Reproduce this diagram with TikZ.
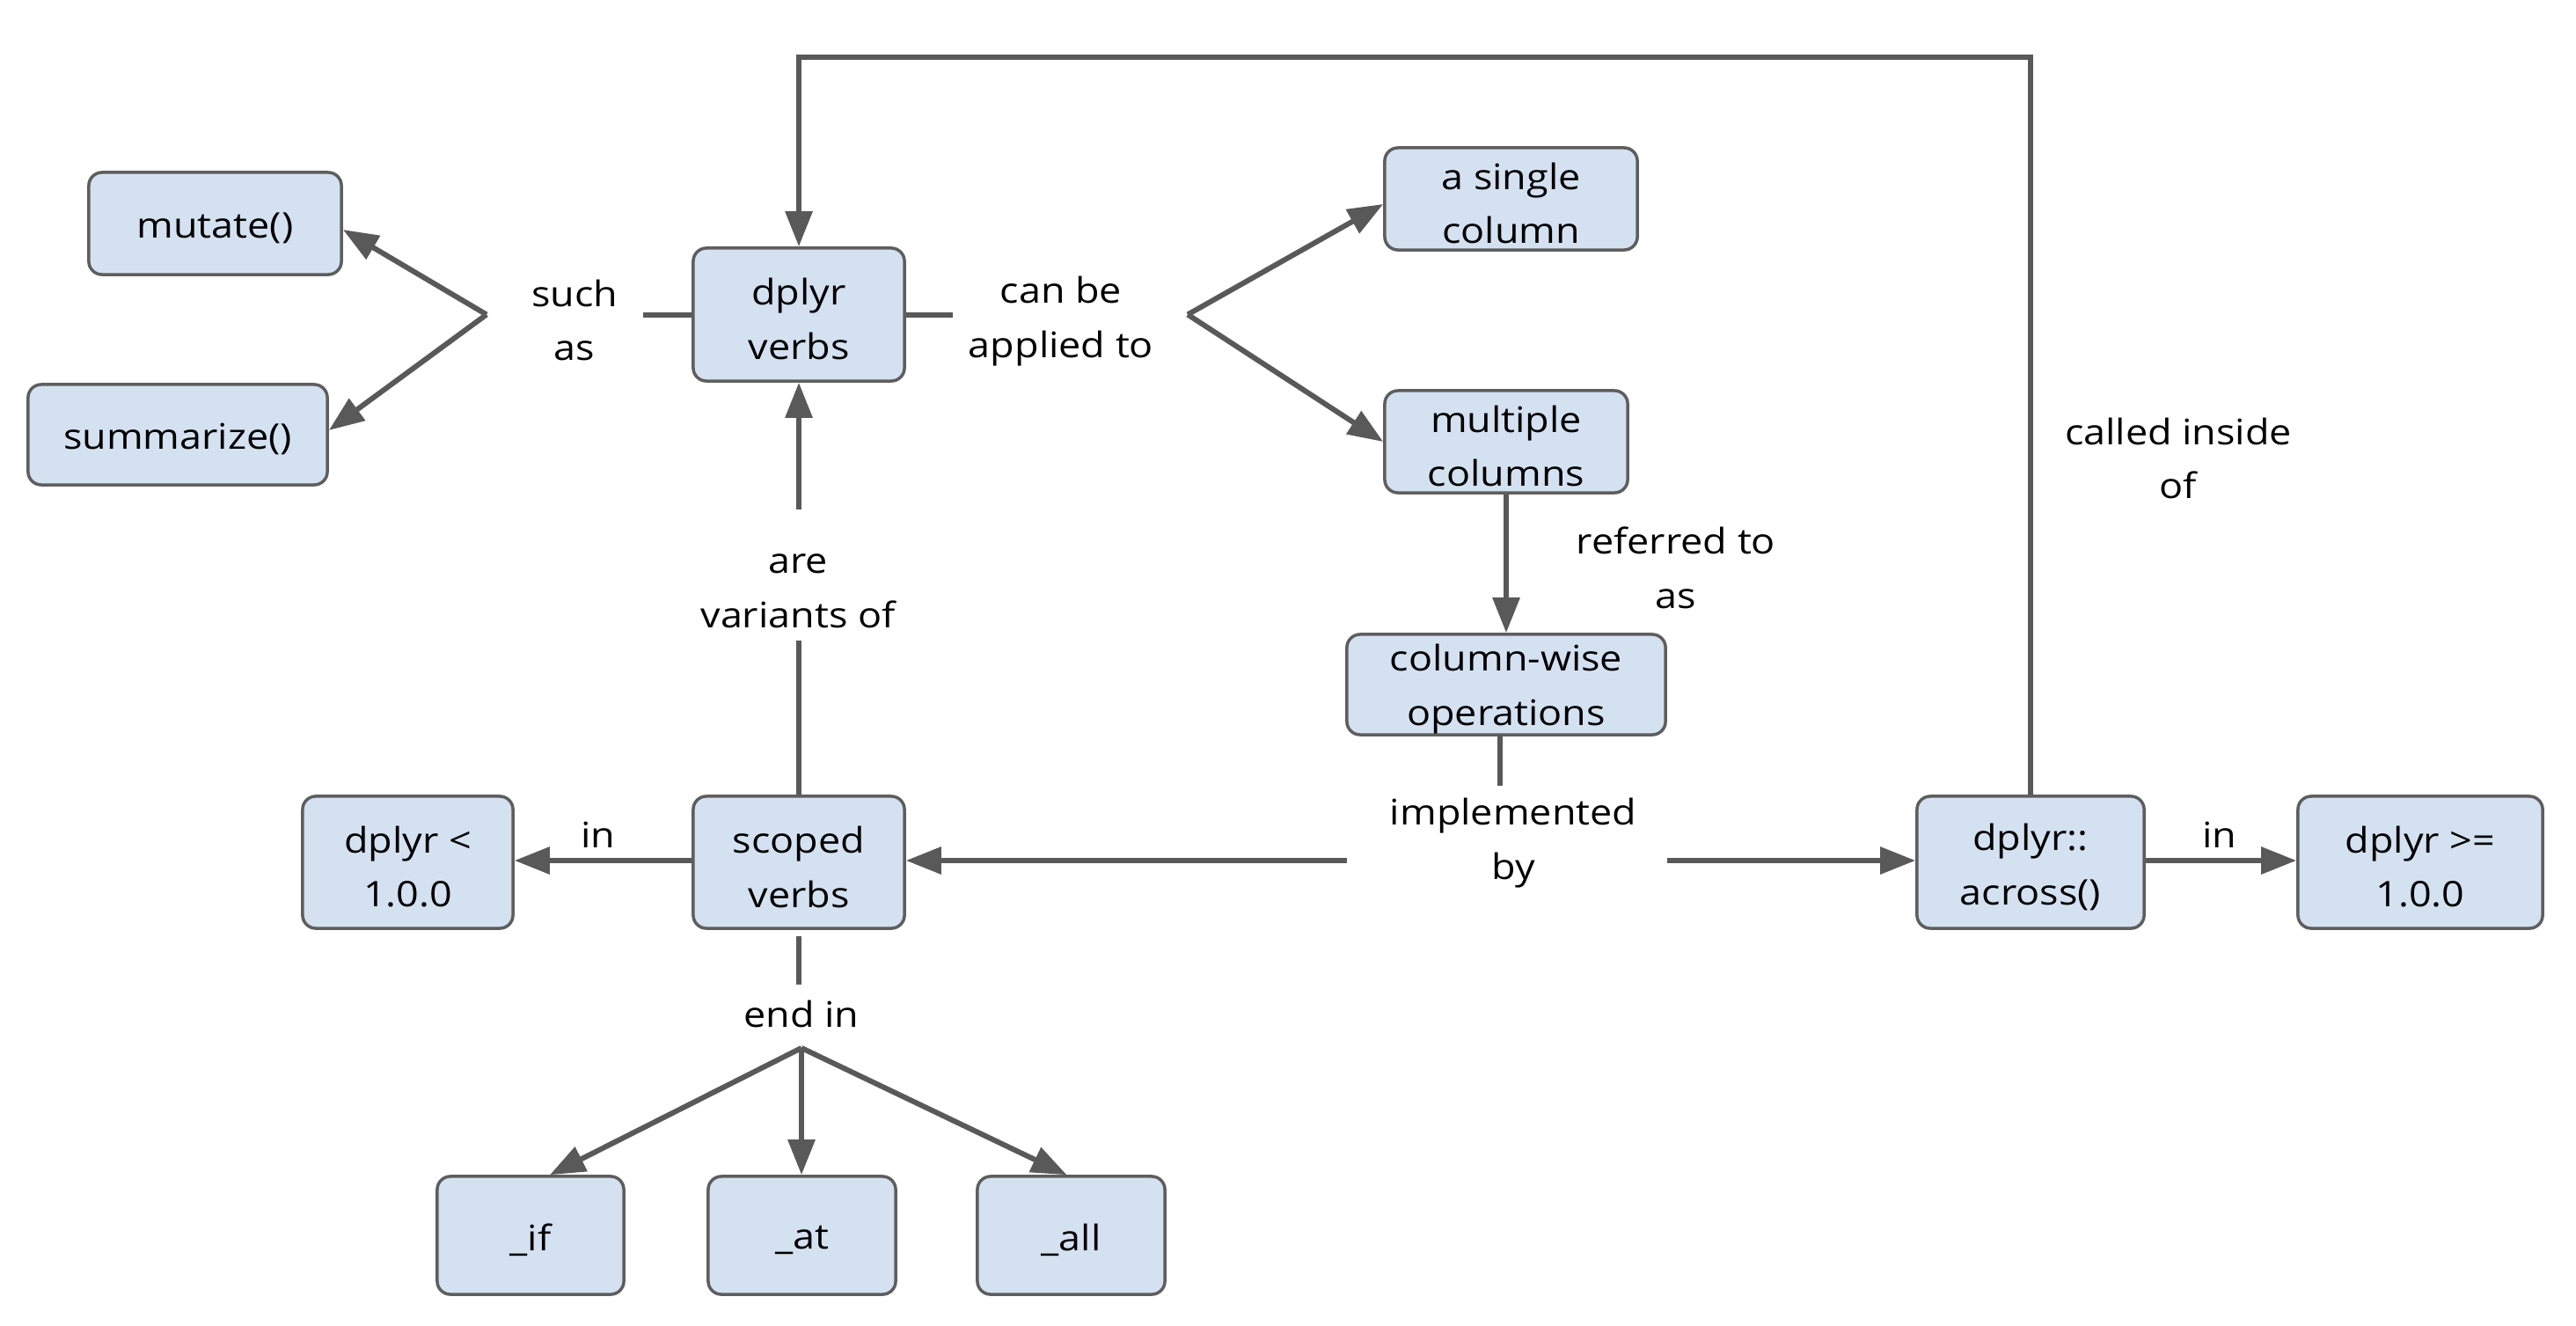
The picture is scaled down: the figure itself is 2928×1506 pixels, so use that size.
\documentclass[tikz,border=0pt]{standalone}
\usepackage{fontspec}
\setmainfont[FakeStretch=1.12]{Open Sans}
\usetikzlibrary{arrows.meta}
\definecolor{boxfill}{HTML}{D4E1F1}
\definecolor{boxline}{HTML}{5E5E5E}
\definecolor{conncol}{HTML}{595959}
\newcommand{\dfont}{\fontsize{11.4}{17.6}\selectfont}
\begin{document}
\begin{tikzpicture}[x=0.01cm,y=-0.01cm,
  box/.style={draw=boxline, fill=boxfill, line width=0.035cm, rounded corners=0.15cm, inner sep=0pt},
  bsize/.style 2 args={minimum width=#1, minimum height=#2},
  lbl/.style={align=center, inner sep=0pt, font=\dfont},
  btext/.style={lbl, yshift=-0.05cm},
  link/.style={draw=conncol, line width=0.06cm},
  arr/.style={link, -{Triangle[length=0.40cm,width=0.30cm]}}]
\useasboundingbox[fill=white] (0,0) rectangle (2928,1506);

% boxes
\node[box, bsize={2.87cm}{1.16cm}, label={[btext]center:{mutate()}}] (mutate) at (244.5,254) {};
\node[box, bsize={3.40cm}{1.14cm}, label={[btext]center:{summarize()}}] (summ) at (202,494) {};
\node[box, bsize={2.40cm}{1.51cm}, label={[btext]center:{dplyr\\verbs}}] (verbs) at (908,357.5) {};
\node[box, bsize={2.87cm}{1.16cm}, label={[btext]center:{a single\\column}}] (single) at (1717.5,226) {};
\node[box, bsize={2.76cm}{1.16cm}, label={[btext]center:{multiple\\columns}}] (multi) at (1712,502) {};
\node[box, bsize={3.62cm}{1.14cm}, label={[btext]center:{column-wise\\operations}}] (cwise) at (1712,778) {};
\node[box, bsize={2.58cm}{1.50cm}, label={[btext]center:{dplyr::\\across()}}] (across) at (2308,980) {};
\node[box, bsize={2.78cm}{1.50cm}, label={[btext]center:{dplyr >=\\1.0.0}}] (ge) at (2751,980) {};
\node[box, bsize={2.40cm}{1.50cm}, label={[btext]center:{scoped\\verbs}}] (scoped) at (908,980) {};
\node[box, bsize={2.39cm}{1.50cm}, label={[btext]center:{dplyr <\\1.0.0}}] (lt) at (463.5,980) {};
\node[box, bsize={2.12cm}{1.34cm}, label={[btext]center:{\_if}}] (if) at (603,1404) {};
\node[box, bsize={2.13cm}{1.34cm}, label={[btext]center:{\_at}}] (at) at (911.5,1404) {};
\node[box, bsize={2.13cm}{1.34cm}, label={[btext]center:{\_all}}] (all) at (1217.5,1404) {};

% labels
\node[lbl] (suchas) at (653,364) {such\\as};
\node[lbl] (applied) at (1206,365) {can be\\applied to};
\node[lbl] (referred) at (1905,645) {referred to\\as};
\node[lbl] (called) at (2476,521) {called inside\\of};
\node[lbl] (variants) at (907,672) {are\\variants of};
\node[lbl] (impl) at (1720,958) {implemented\\by};
\node[lbl] (inL) at (680,949) {in};
\node[lbl] (inR) at (2523,949) {in};
\node[lbl] (endin) at (911,1152) {end in};

% junction coordinates
\coordinate (sE) at (731,357.5);
\coordinate (sB) at (553,357.5);
\coordinate (aE) at (1083,357.5);
\coordinate (aB) at (1350,357.5);
\coordinate (iTop) at (1705,893);
\coordinate (iL) at (1531,978);
\coordinate (iR) at (1895,978);
\coordinate (vTop) at (908,728);
\coordinate (vBot) at (908,579);
\coordinate (eEnd) at (908,1119);
\coordinate (eB) at (911,1191);
\coordinate (top) at (908,65);

% connectors
\draw[link] (verbs.west) -- (sE);
\draw[arr] (sB) -- ([yshift=-0.07cm]mutate.east);
\draw[arr] (sB) -- ([yshift=0.05cm]summ.east);
\draw[link] (verbs.east) -- (aE);
\draw[arr] (aB) -- ([yshift=-0.06cm]single.west);
\draw[arr] (aB) -- (multi.west);
\draw[arr] (multi.south) -- (cwise.north);
\draw[link] (cwise.south -| iTop) -- (iTop);
\draw[arr] (iL) -- (scoped.east |- iL);
\draw[arr] (iR) -- (across.west |- iR);
\draw[link] (scoped.north) -- (vTop);
\draw[arr] (vBot) -- (verbs.south);
\draw[arr] (scoped.west |- iL) -- (lt.east |- iL);
\draw[link] ([yshift=-0.07cm]scoped.south) -- (eEnd);
\draw[arr] (eB) -- ([xshift=0.22cm]if.north);
\draw[arr] (eB) -- (at.north -| eB);
\draw[arr] (eB) -- ([xshift=-0.05cm]all.north);
\draw[arr] (across.east |- iL) -- (ge.west |- iL);
\draw[arr] (across.north) |- (top) -- (verbs.north);
\end{tikzpicture}
\end{document}
